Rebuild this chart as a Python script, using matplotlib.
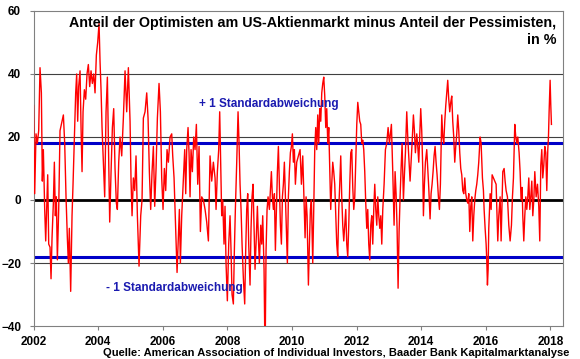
import numpy as np
import matplotlib.pyplot as plt

plt.rcParams['font.family'] = ['Liberation Sans', 'DejaVu Sans']

# AAII bull-bear spread (% bulls minus % bears)
dates = [
    2002.0, 2002.036, 2002.077, 2002.119, 2002.16, 2002.201, 2002.243, 2002.273, 2002.304, 2002.346,
    2002.377, 2002.408, 2002.439, 2002.47, 2002.511, 2002.542, 2002.573, 2002.614, 2002.645, 2002.676,
    2002.707, 2002.738, 2002.779, 2002.82, 2002.862, 2002.924, 2002.965,
    2003.006, 2003.047, 2003.078, 2003.109, 2003.15, 2003.192, 2003.223, 2003.264, 2003.305, 2003.336,
    2003.367, 2003.398, 2003.44, 2003.471, 2003.502, 2003.533, 2003.574, 2003.615, 2003.656, 2003.697,
    2003.739, 2003.78, 2003.821, 2003.863, 2003.904, 2003.945, 2003.986,
    2004.028, 2004.059, 2004.09, 2004.121, 2004.162, 2004.203, 2004.245, 2004.286, 2004.317, 2004.358,
    2004.4, 2004.441, 2004.482, 2004.523, 2004.564, 2004.595, 2004.637, 2004.678, 2004.73, 2004.781,
    2004.833, 2004.884, 2004.936, 2004.988,
    2005.019, 2005.05, 2005.091, 2005.132, 2005.173, 2005.215, 2005.266, 2005.318, 2005.359, 2005.4,
    2005.452, 2005.504, 2005.545, 2005.586, 2005.627, 2005.669, 2005.71, 2005.751, 2005.793, 2005.834,
    2005.885, 2005.927, 2005.968,
    2006.009, 2006.05, 2006.092, 2006.133, 2006.174, 2006.226, 2006.278, 2006.309, 2006.35, 2006.381,
    2006.412, 2006.443, 2006.484, 2006.515, 2006.546, 2006.587, 2006.639, 2006.68, 2006.711, 2006.742,
    2006.783, 2006.814, 2006.845, 2006.876, 2006.917, 2006.959,
    2007.0, 2007.041, 2007.083, 2007.124, 2007.165, 2007.206, 2007.258, 2007.31, 2007.361, 2007.413,
    2007.464, 2007.516, 2007.567, 2007.619, 2007.65, 2007.691, 2007.732, 2007.763, 2007.794, 2007.825,
    2007.856, 2007.897, 2007.928, 2007.959,
    2008.0, 2008.042, 2008.083, 2008.114, 2008.145, 2008.186, 2008.217, 2008.248, 2008.29, 2008.331,
    2008.362, 2008.393, 2008.424, 2008.455, 2008.496, 2008.537, 2008.568, 2008.599, 2008.63, 2008.661,
    2008.702, 2008.733, 2008.764, 2008.795, 2008.826, 2008.857, 2008.888, 2008.93, 2008.96, 2008.991,
    2009.033, 2009.064, 2009.095, 2009.136, 2009.167, 2009.198, 2009.229, 2009.26, 2009.301, 2009.332,
    2009.363, 2009.394, 2009.425, 2009.456, 2009.487, 2009.518, 2009.549, 2009.58, 2009.611, 2009.642,
    2009.673, 2009.704, 2009.734, 2009.765, 2009.796, 2009.827, 2009.858, 2009.889, 2009.92, 2009.951,
    2009.982,
    2010.013, 2010.044, 2010.075, 2010.106, 2010.147, 2010.251, 2010.292, 2010.334, 2010.375, 2010.406,
    2010.437, 2010.468, 2010.509, 2010.54, 2010.571, 2010.602, 2010.643, 2010.674, 2010.705, 2010.736,
    2010.767, 2010.798, 2010.829, 2010.86, 2010.891, 2010.922, 2010.953, 2010.984,
    2011.015, 2011.046, 2011.077, 2011.108, 2011.139, 2011.17, 2011.2, 2011.231, 2011.262, 2011.293,
    2011.324, 2011.355, 2011.386, 2011.417, 2011.448, 2011.479, 2011.51, 2011.541, 2011.572, 2011.603,
    2011.634, 2011.665, 2011.696, 2011.727, 2011.758, 2011.789, 2011.82, 2011.851, 2011.882, 2011.913,
    2011.944, 2011.975,
    2012.006, 2012.037, 2012.067, 2012.098, 2012.129, 2012.16, 2012.191, 2012.222, 2012.253, 2012.284,
    2012.315, 2012.346, 2012.377, 2012.408, 2012.439, 2012.47, 2012.501, 2012.532, 2012.563, 2012.594,
    2012.625, 2012.656, 2012.687, 2012.718, 2012.749, 2012.78, 2012.811, 2012.852, 2012.893, 2012.934,
    2012.976,
    2013.017, 2013.078, 2013.12, 2013.161, 2013.192, 2013.223, 2013.254, 2013.285, 2013.316, 2013.347,
    2013.378, 2013.409, 2013.45, 2013.481, 2013.512, 2013.553, 2013.584, 2013.615, 2013.656, 2013.687,
    2013.718, 2013.759, 2013.79, 2013.821, 2013.863, 2013.894, 2013.925, 2013.955, 2013.986,
    2014.017, 2014.048, 2014.069, 2014.1, 2014.131, 2014.172, 2014.203, 2014.234, 2014.275, 2014.306,
    2014.337, 2014.368, 2014.399, 2014.43, 2014.461, 2014.492, 2014.533, 2014.564, 2014.595, 2014.637,
    2014.668, 2014.699, 2014.73, 2014.761, 2014.791, 2014.822, 2014.853, 2014.884, 2014.915, 2014.946,
    2014.977,
    2015.008, 2015.039, 2015.07, 2015.101, 2015.132, 2015.163, 2015.194, 2015.225, 2015.256, 2015.287,
    2015.318, 2015.349, 2015.38, 2015.411, 2015.442, 2015.473, 2015.504, 2015.535, 2015.566, 2015.597,
    2015.628, 2015.658, 2015.689, 2015.72, 2015.751, 2015.782, 2015.824, 2015.855, 2015.896, 2015.927,
    2015.948, 2015.979,
    2016.01, 2016.03, 2016.051, 2016.072, 2016.092, 2016.134, 2016.165, 2016.196, 2016.237, 2016.278,
    2016.319, 2016.34, 2016.371, 2016.402, 2016.443, 2016.474, 2016.505, 2016.526, 2016.567, 2016.598,
    2016.629, 2016.67, 2016.712, 2016.753, 2016.794, 2016.825, 2016.856, 2016.897, 2016.928, 2016.959,
    2016.99,
    2017.031, 2017.062, 2017.093, 2017.124, 2017.145, 2017.176, 2017.207, 2017.238, 2017.269, 2017.3,
    2017.331, 2017.362, 2017.393, 2017.424, 2017.455, 2017.486, 2017.517, 2017.558, 2017.6, 2017.64,
    2017.671, 2017.702, 2017.733, 2017.764, 2017.795, 2017.826, 2017.857, 2017.888, 2017.919, 2017.94,
    2017.96, 2017.991, 2018.012, 2018.032,
]
spread = [
    30, 2, 21, 18, 22, 42, 34, 6, 16, -3,
    -13, -3, 8, -14, -15, -25, -12, -1, 12, -5,
    1, -19, -3, 22, 24, 27, 18,
    1, -12, -20, -9, -29, -5, 5, 20, 34, 40,
    25, 36, 41, 23, 9, 28, 35, 32, 40, 43,
    36, 41, 37, 40, 34, 46, 50,
    56, 44, 35, 23, 12, 1, 28, 39, 20, -7,
    9, 23, 29, 10, -1, -3, 12, 20, 14, 26,
    41, 28, 42, 25,
    6, -5, 7, 3, 14, -5, -21, -5, 0, 26,
    28, 34, 26, 9, -3, 9, 17, -2, 10, 26,
    37, 28, 7,
    -3, 10, 3, 16, 12, 20, 21, 14, 7, -3,
    -14, -23, -12, -3, -20, -5, 7, 16, 2, 16,
    23, 15, 1, 16, 9, 20,
    16, 24, 5, 17, -10, 1, 0, -3, -7, -13,
    14, 6, 12, 7, -3, 9, 16, 28, 12, -5,
    0, -14, -2, -20,
    -32, -14, -5, -16, -30, -33, -16, -3, 12, 28,
    18, 5, -3, -14, -25, -33, -16, -3, 2, -14,
    -27, -9, 1, 5, -8, -22, -14, -2, -12, -20,
    -8, -14, -5, -22, -51, -16, -3, 1, -3, 3,
    9, 1, -3, 2, -16, -3, 9, 17, 5, -8,
    -14, 1, 5, 12, 1, -10, -20, 1, 9, 15,
    17,
    21, 12, 16, 5, 12, 16, 5, 14, -1, -12,
    1, -5, -27, -14, -3, 0, -20, -3, 16, 23,
    16, 27, 18, 29, 25, 34, 37, 39,
    33, 23, 29, 18, 23, 9, -3, 5, 12, 9,
    5, -5, -14, -18, -3, 5, 14, 1, -8, -13,
    -8, -3, -14, -18, -8, 5, 15, 16, 4, -3,
    1, 12,
    24, 31, 28, 25, 24, 18, 19, 16, 9, -1,
    -9, -3, -14, -19, -8, -5, -14, -3, 5, -3,
    -8, 1, -5, -9, -5, -14, -3, 5, 16, 18,
    23,
    18, 24, 9, -8, 9, 2, -9, -28, -10, 1,
    10, 18, 0, 8, 15, 28, 20, 14, 6, 12,
    18, 27, 22, 15, 21, 17, 12, 20, 29,
    22, 10, -5, 5, 12, 16, 10, 4, -6, 2,
    5, 9, 14, 17, 12, 8, 1, -3, 5, 27,
    20, 18, 25, 30, 34, 38, 32, 28, 31, 33,
    25,
    20, 12, 17, 21, 27, 22, 15, 10, 8, 3,
    2, 7, 2, 0, -1, 2, -10, -2, 1, -13,
    -5, 0, 3, 5, 8, 12, 20, 18, 7, 3,
    -3, -9,
    -14, -19, -27, -22, -9, 2, -3, 8, 7, 6,
    5, -2, -13, -5, 1, -13, 1, 9, 10, 6,
    3, 1, -8, -13, -8, 1, 7, 24, 20, 18,
    20,
    15, 9, 0, 4, -5, -13, -5, 1, -3, 1,
    7, -3, 1, 6, -5, 0, 9, 1, 5, -2,
    -13, 11, 16, 7, 11, 17, 15, 3, 16, 20,
    28, 38, 30, 24,
]

# +/- one standard deviation band
std_dev = 18.2
year_ticks = [2002, 2004, 2006, 2008, 2010, 2012, 2014, 2016, 2018]
value_ticks = [-40, -20, 0, 20, 40, 60]
grid_levels = [-20, 20, 40]

fig = plt.figure(figsize=(5.8, 3.59), dpi=100)
ax = fig.add_axes([0.0578, 0.0919, 0.9129, 0.8775])

for g in grid_levels:
    ax.axhline(g, color='#404040', lw=0.8, zorder=1)
ax.axhline(0, color='black', lw=2.0, zorder=2)
ax.axhline(std_dev, color='#0000C8', lw=2.2, zorder=2)
ax.axhline(-std_dev, color='#0000C8', lw=2.2, zorder=2)

ax.plot(dates, spread, color='#FF0000', lw=1.0, zorder=3)

ax.set_xlim(2002, 2018.39)
ax.set_ylim(-40, 60)
ax.set_xticks(year_ticks)
ax.set_yticks(value_ticks)
ax.tick_params(axis='both', direction='out', length=3, width=0.8, color='#808080',
               labelsize=8.5)
ax.tick_params(axis='x', pad=4)
ax.tick_params(axis='y', pad=6)
for lab in ax.get_xticklabels() + ax.get_yticklabels():
    lab.set_fontweight('bold')
for sp in ax.spines.values():
    sp.set_color('#808080')
    sp.set_linewidth(0.8)

ax.text(2007.13, 30.5, '+ 1 Standardabweichung', color='#1A1AB0', fontsize=8.5,
        fontweight='bold', va='center')
ax.text(2004.25, -27.8, '- 1 Standardabweichung', color='#1A1AB0', fontsize=8.5,
        fontweight='bold', va='center')

fig.text(0.959, 0.912, 'Anteil der Optimisten am US-Aktienmarkt minus Anteil der Pessimisten,\nin %',
         ha='right', va='center', fontsize=10.3, fontweight='bold', linespacing=1.3,
         multialignment='right')
fig.text(0.981, 0.004, 'Quelle: American Association of Individual Investors, Baader Bank Kapitalmarktanalyse',
         ha='right', va='bottom', fontsize=8, fontweight='bold')

fig.savefig('out.png', dpi=100)
